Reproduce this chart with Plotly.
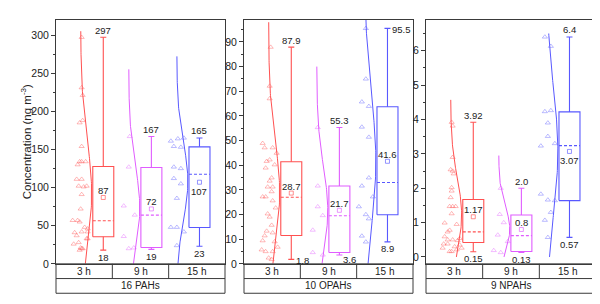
import numpy as np
import plotly.graph_objects as go

# ---------------- data ----------------
periods = ["3 h", "9 h", "15 h"]
groups = ["16 PAHs", "10 OPAHs", "9 NPAHs"]
colors = ["#FF5050", "#E05CFF", "#5858FF"]

# individual samples (values) and their horizontal jitter (px)
pah_vals = [
    [297, 231, 221, 188, 185, 154, 134, 134, 134, 130, 111, 111, 102, 101, 102, 91, 72,
     57, 57, 55, 48, 46, 42, 42, 41, 37, 33, 33, 28, 26, 21, 20, 20, 18],
    [167, 127, 76, 64, 36, 20, 21],
    [161, 164, 165, 154, 153, 127, 125, 112, 105, 86, 48, 48, 42, 24],
]
pah_jit = [
    [-12, -12, -11, -11, -14, -12, -14, -12, -8, -16, -17, -12, -15, -10, -7, -12, -13,
     -21, -16, -14, -9, -6, -12, -6, -19, -17, -6, -7, -15, -20, -13, -12, -11, -14],
    [-12, -13, -18, -7, -18, -13, -8],
    [-19, -12, -6, -16, -9, -16, -9, -16, -9, -13, -19, -13, -6, -13],
]
opah_vals = [
    [87.9, 72.1, 67, 48.9, 47.1, 47.1, 44.9, 42.2, 41.6, 40.2, 38.9, 34.9, 33.6, 31.2, 31.2,
     29.3, 27.2, 27.2, 25.6, 22.7, 20.3, 19, 15.7, 13.3, 12.6, 11.4, 9.4, 9, 6.8, 5.7, 5, 5,
     2.4, 1.8],
    [55.3, 31.6, 23.2, 19.6, 13.7, 4.6, 3.6],
    [95.5, 75, 65.7, 63.9, 55.5, 51.4, 34.9, 31.6, 27.2, 23.2, 20, 18.3, 11.3, 8.9],
]
opah_jit = [
    [-11, -12, -12, -19, -17, -9, -5, -12, -15, -7, -16, -10, -12, -14, -9, -10, -19, -16,
     -9, -6, -14, -12, -10, -15, -9, -17, -19, -7, -4, -20, -16, -9, -13, -10],
    [-12, -12, -12, -7, -17, -17, -7],
    [-12, -12, -16, -9, -16, -9, -9, -16, -5, -19, -12, -9, -16, -12],
]
npah_vals = [
    [3.92, 3.81, 2.9, 2.54, 2.5, 2.42, 2.02, 1.92, 1.73, 1.47, 1.47, 1.47, 1.26, 0.99, 0.95,
     0.73, 0.78, 0.59, 0.5, 0.5, 0.54, 0.48, 0.38, 0.38, 0.3, 0.26, 0.16, 0.16, 0.21, 0.35,
     0.26],
    [2.0, 1.24, 1.0, 0.64, 0.45, 0.19, 0.13],
    [6.4, 6.13, 4.23, 4.26, 3.9, 3.51, 3.3, 3.23, 1.83, 1.66, 1.64, 1.3, 1.07, 0.57],
]
npah_jit = [
    [-12, -11, -11, -13, -11, -10, -12, -12, -13, -14, -11, -8, -12, -19, -7, -16, -14, -19,
     -16, -11, -4, -6, -20, -16, -9, -21, -14, -12, -7, -4, -2],
    [-11, -12, -8, -14, -4, -18, -11],
    [-15, -9, -15, -9, -12, -12, -5, -19, -19, -12, -5, -9, -15, -12],
]

# box statistics
pah_q1 = [35.6, 21.4, 47.6]; pah_med = [56.5, 63.9, 117.4]; pah_q3 = [127.6, 126.4, 153.4]
pah_min = [18, 19, 23]; pah_max = [297, 167, 165]; pah_mean = [87, 72, 107]
opah_q1 = [11.5, 4.6, 19.9]; opah_med = [27, 19.5, 33]; opah_q3 = [41.4, 31.6, 63.7]
opah_min = [1.8, 3.6, 8.9]; opah_max = [87.9, 55.3, 95.5]; opah_mean = [28.7, 21.7, 41.6]
npah_q1 = [0.42, 0.16, 1.64]; npah_med = [0.73, 0.62, 3.24]; npah_q3 = [1.67, 1.22, 4.22]
npah_min = [0.15, 0.13, 0.57]; npah_max = [3.92, 2.0, 6.4]; npah_mean = [1.17, 0.8, 3.07]

# labels as printed
pah_max_lbl = ["297", "167", "165"]; pah_mean_lbl = ["87", "72", "107"]; pah_min_lbl = ["18", "19", "23"]
opah_max_lbl = ["87.9", "55.3", "95.5"]; opah_mean_lbl = ["28.7", "21.7", "41.6"]; opah_min_lbl = ["1.8", "3.6", "8.9"]
npah_max_lbl = ["3.92", "2.0", "6.4"]; npah_mean_lbl = ["1.17", "0.8", "3.07"]; npah_min_lbl = ["0.15", "0.13", "0.57"]

# extent of the distribution curves
pah_curve_top = [305, 255, 272]
opah_curve_top = [98, 80, 105]
npah_curve_top = [4.57, 2.95, 6.5]

y_ranges = [[0, 320], [0, 99], [-0.2, 6.9]]
y_dtick = [50, 10, 1]

# ---------------- layout constants ----------------
W, H = 600, 304
lefts = [48, 236, 418]
rights = [217, 405, 588]
top_px, bot_px = 12, 261
row1_px, row2_px = 276, 291
PXU = 48.1           # pixels per category unit
R0 = 0.217           # left edge of x range
BOX_OFF = 0.2
BOX_HW = 10.5 / PXU
CAP_HW = 3.0 / PXU
CURVE_BASE = 13.0 / PXU
CURVE_AMP = 11.0 / PXU

TXT = "#222222"
FRAME = "#3a3a3a"
FONT = "Liberation Sans, Arial, sans-serif"


def px(x):
    return x / W


def py(y):
    return 1 - y / H


panels = [
    dict(vals=pah_vals, jit=pah_jit, q1=pah_q1, med=pah_med, q3=pah_q3, mn=pah_min, mx=pah_max,
         mean=pah_mean, lmax=pah_max_lbl, lmean=pah_mean_lbl, lmin=pah_min_lbl, ctop=pah_curve_top,
         pmax=["above", "above", "above"], pmean=["above", "above", "below"], pmin=["below", "below", "below"]),
    dict(vals=opah_vals, jit=opah_jit, q1=opah_q1, med=opah_med, q3=opah_q3, mn=opah_min, mx=opah_max,
         mean=opah_mean, lmax=opah_max_lbl, lmean=opah_mean_lbl, lmin=opah_min_lbl, ctop=opah_curve_top,
         pmax=["above", "above", "right"], pmean=["above", "above", "above"], pmin=["right", "rightlow", "below"]),
    dict(vals=npah_vals, jit=npah_jit, q1=npah_q1, med=npah_med, q3=npah_q3, mn=npah_min, mx=npah_max,
         mean=npah_mean, lmax=npah_max_lbl, lmean=npah_mean_lbl, lmin=npah_min_lbl, ctop=npah_curve_top,
         pmax=["above", "above", "above"], pmean=["above", "above", "below"], pmin=["below", "below", "below"]),
]

fig = go.Figure()
annotations = []
shapes = []

for p, P in enumerate(panels):
    xa = "x" if p == 0 else f"x{p+1}"
    ya = "y" if p == 0 else f"y{p+1}"
    for i in range(3):
        pos = i + 1
        col = colors[i]
        vals = np.array(P["vals"][i], dtype=float)
        jit = np.array(P["jit"][i], dtype=float)
        # scatter points
        fig.add_trace(go.Scatter(
            x=pos + jit / PXU, y=vals, mode="markers", xaxis=xa, yaxis=ya,
            marker=dict(symbol="triangle-up-open", size=4.5, color=col, opacity=0.5,
                        line=dict(width=0.8, color=col)),
            showlegend=False, hoverinfo="y"))
        # normal distribution curve
        mu = vals.mean()
        sd = vals.std(ddof=1)
        yy = np.linspace(0, P["ctop"][i], 120)
        xx = pos - CURVE_BASE + CURVE_AMP * np.exp(-0.5 * ((yy - mu) / sd) ** 2)
        fig.add_trace(go.Scatter(x=xx, y=yy, mode="lines", xaxis=xa, yaxis=ya,
                                 line=dict(color=col, width=1), showlegend=False, hoverinfo="skip"))
        # box
        bc = pos + BOX_OFF
        x0, x1 = bc - BOX_HW, bc + BOX_HW
        q1, q3, med = P["q1"][i], P["q3"][i], P["med"][i]
        mn, mx = P["mn"][i], P["mx"][i]
        bx = [x0, x1, x1, x0, x0, None, bc, bc, None, bc, bc, None,
              bc - CAP_HW, bc + CAP_HW, None, bc - CAP_HW, bc + CAP_HW]
        by = [q1, q1, q3, q3, q1, None, q3, mx, None, q1, mn, None, mx, mx, None, mn, mn]
        fig.add_trace(go.Scatter(x=bx, y=by, mode="lines", xaxis=xa, yaxis=ya,
                                 line=dict(color=col, width=1.1), showlegend=False, hoverinfo="skip"))
        fig.add_trace(go.Scatter(x=[x0, x1], y=[med, med], mode="lines", xaxis=xa, yaxis=ya,
                                 line=dict(color=col, width=1.1, dash="3px,2px"), showlegend=False,
                                 hoverinfo="skip"))
        fig.add_trace(go.Scatter(x=[bc], y=[P["mean"][i]], mode="markers", xaxis=xa, yaxis=ya,
                                 marker=dict(symbol="square-open", size=4, color=col, opacity=0.8,
                                             line=dict(width=0.8)),
                                 showlegend=False, hoverinfo="y"))
        # value labels
        for val, txt, place in ((mx, P["lmax"][i], P["pmax"][i]),
                                (P["mean"][i], P["lmean"][i], P["pmean"][i]),
                                (mn, P["lmin"][i], P["pmin"][i])):
            a = dict(x=bc, y=val, xref=xa, yref=ya, text=txt, showarrow=False,
                     font=dict(size=9.5, color=TXT, family=FONT), yanchor="middle")
            if place == "above":
                a.update(xanchor="center", yshift=7)
            elif place == "below":
                a.update(xanchor="center", yshift=-7)
            elif place == "right":
                a.update(xanchor="left", xshift=3, yshift=-1)
            elif place == "rightlow":
                a.update(xanchor="left", xshift=2, yshift=-5)
            if txt in P["lmean"] and place == "below":
                a.update(yshift=-9)
            annotations.append(a)

    # axes
    w_px = rights[p] - lefts[p]
    xdom = [px(lefts[p]), px(rights[p])]
    ydom = [py(bot_px), py(top_px)]
    xkey = "xaxis" if p == 0 else f"xaxis{p+1}"
    ykey = "yaxis" if p == 0 else f"yaxis{p+1}"
    fig.update_layout(**{
        xkey: dict(domain=xdom, range=[R0, R0 + w_px / PXU], anchor=ya, showgrid=False,
                   zeroline=False, showticklabels=False, ticks="", showline=True, mirror=True,
                   linecolor=FRAME, linewidth=1),
        ykey: dict(domain=ydom, range=y_ranges[p], anchor=xa, showgrid=False, zeroline=False,
                   showline=True, mirror=True, linecolor=FRAME, linewidth=1,
                   ticks="outside", ticklen=4, tickwidth=1, tickcolor=FRAME, dtick=y_dtick[p],
                   tick0=0, tickfont=dict(size=10.5, color=TXT, family=FONT),
                   minor=dict(ticks="outside", ticklen=2, dtick=y_dtick[p] / 2, tick0=0,
                              tickcolor=FRAME, showgrid=False)),
    })

    # category boxes under each panel
    L, R = lefts[p], rights[p]
    shapes.append(dict(type="rect", xref="paper", yref="paper", x0=px(L), x1=px(R),
                       y0=py(row2_px), y1=py(bot_px), line=dict(color=FRAME, width=1)))
    shapes.append(dict(type="line", xref="paper", yref="paper", x0=px(L), x1=px(R),
                       y0=py(row1_px), y1=py(row1_px), line=dict(color=FRAME, width=1)))
    cw = (R - L) / 3
    for k in range(1, 3):
        shapes.append(dict(type="line", xref="paper", yref="paper", x0=px(L + k * cw),
                           x1=px(L + k * cw), y0=py(row1_px), y1=py(bot_px),
                           line=dict(color=FRAME, width=1)))
    for k in range(3):
        annotations.append(dict(x=px(L + (k + 0.5) * cw), y=py((bot_px + row1_px) / 2),
                                xref="paper", yref="paper", text=periods[k], showarrow=False,
                                font=dict(size=10, color=TXT, family=FONT),
                                xanchor="center", yanchor="middle"))
    annotations.append(dict(x=px((L + R) / 2), y=py((row1_px + row2_px) / 2), xref="paper",
                            yref="paper", text=groups[p], showarrow=False,
                            font=dict(size=10, color=TXT, family=FONT),
                            xanchor="center", yanchor="middle"))

annotations.append(dict(x=px(17.5), y=py((top_px + bot_px) / 2), xref="paper", yref="paper",
                        text="Concentration (ng m<sup>-3</sup>)", textangle=-90, showarrow=False,
                        font=dict(size=11.5, color=TXT, family=FONT),
                        xanchor="center", yanchor="middle"))

fig.update_layout(width=W, height=H, autosize=False, margin=dict(l=0, r=0, t=0, b=0),
                  paper_bgcolor="white", plot_bgcolor="white", showlegend=False,
                  annotations=annotations, shapes=shapes)

fig.write_html("out.html")
